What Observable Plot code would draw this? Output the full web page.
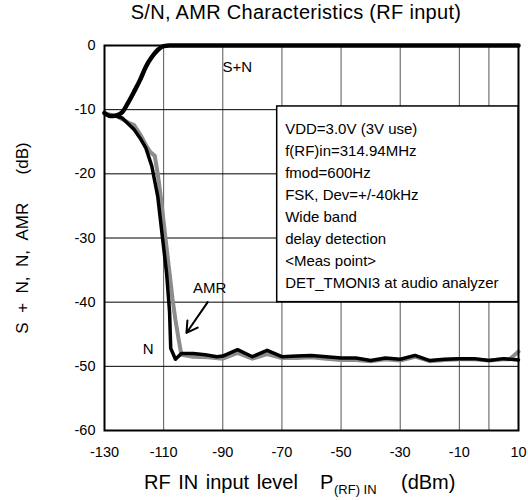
<!DOCTYPE html>
<html>
<head>
<meta charset="utf-8">
<script src="https://cdn.jsdelivr.net/npm/d3@7"></script>
<script src="https://cdn.jsdelivr.net/npm/@observablehq/plot@0.6"></script>
<style>
  html, body { margin: 0; padding: 0; background: #fff; }
  #wrap { position: relative; width: 528px; height: 500px; font-family: "Liberation Sans", Arial, sans-serif; color: #000; overflow: hidden; }
  #title { position: absolute; top: 0; left: 296px; transform: translateX(-50%); font-size: 20px; line-height: 24px; white-space: nowrap; letter-spacing: 0.3px; }
  #chart { position: absolute; top: 28px; left: 0; }
  .xl { position: absolute; top: 470px; font-size: 20px; line-height: 24px; white-space: pre; }
  #xl1 { left: 144px; word-spacing: 2px; }
  #xl2 { left: 320px; }
  #xl3 { left: 334px; top: 478px; font-size: 13px; }
  #xl4 { left: 401px; }
</style>
</head>
<body>
<div id="wrap">
  <div id="title"></div>
  <div id="chart"></div>
  <span class="xl" id="xl1"></span>
  <span class="xl" id="xl2"></span>
  <span class="xl" id="xl3"></span>
  <span class="xl" id="xl4"></span>
</div>
<script>
// ---- data ----
const titleText = "S/N, AMR Characteristics (RF input)";
const xLabelMain = "RF IN input level";
const xLabelP = "P";
const xLabelSub = "(RF) IN";
const xLabelUnit = "(dBm)";
const yLabelText = "S\u00a0\u00a0+\u00a0\u00a0N,\u00a0\u00a0N,\u00a0\u00a0AMR\u00a0\u00a0\u00a0\u00a0\u00a0\u00a0(dB)";

const xTicks = [-130, -110, -90, -70, -50, -30, -10, 10];
const yTicks = [0, -10, -20, -30, -40, -50, -60];
const xGrid = [-110, -90, -70, -50, -30, -10, 0];
const yGrid = [-10, -20, -30, -40, -50];

// S+N (black)
const snX = [-130, -128, -126, -124, -122, -120, -118, -116, -114, -112, -110, -108, -100, -80, -60, -40, -20, 0, 10];
const snY = [-10.5, -11.0, -10.9, -10.4, -8.9, -7.2, -5.4, -3.3, -1.8, -0.7, -0.1, 0, 0, 0, 0, 0, 0, 0, 0];

// N (black)
const nX = [-130, -128, -126, -124, -122, -120, -118, -116, -114, -112, -111, -110, -109, -108, -107.6, -106, -104, -100, -96, -92, -90, -85, -80, -75, -70, -65, -60, -55, -50, -45, -40, -35, -30, -25, -20, -15, -10, -5, 0, 5, 10];
const nY = [-10.6, -11.0, -11.0, -11.3, -12.2, -13.1, -14.4, -16.0, -18.8, -23.5, -27.5, -31.5, -35.5, -41.5, -47.2, -48.9, -48.0, -48.0, -48.2, -48.5, -48.4, -47.4, -48.5, -47.5, -48.5, -48.4, -48.3, -48.5, -48.7, -48.7, -49.1, -48.7, -48.9, -48.3, -49.1, -48.9, -48.8, -48.8, -49.1, -48.8, -49.0];

// AMR (gray)
const amrX = [-130, -128, -126, -124, -122, -120, -118, -116, -114.5, -113, -112, -111, -110, -109, -108, -107, -106, -105, -104, -100, -95, -90, -85, -80, -75, -70, -65, -60, -55, -50, -45, -40, -35, -30, -25, -20, -15, -10, -5, 0, 5, 7, 10];
const amrY = [-10.6, -10.8, -11.0, -11.5, -12.0, -12.4, -13.8, -15.5, -16.6, -17.2, -20.0, -23.5, -27.5, -31.5, -35.5, -39.5, -42.8, -45.6, -48.2, -48.5, -48.6, -48.8, -47.9, -48.8, -48.1, -48.7, -48.7, -48.6, -48.8, -49.0, -49.0, -49.2, -48.9, -49.1, -48.5, -49.2, -49.0, -48.9, -48.9, -49.1, -48.9, -48.9, -47.7];

// annotation box
const boxLines = [
  "VDD=3.0V (3V use)",
  "f(RF)in=314.94MHz",
  "fmod=600Hz",
  "FSK, Dev=+/-40kHz",
  "Wide band",
  "delay detection",
  "<Meas point>",
  "DET_TMONI3 at audio analyzer"
];
const boxX1 = -71.6, boxX2 = 10, boxY1 = -9.5, boxY2 = -40.0;
const boxTextX = -68.9, boxTextY = -11.4;

// curve labels
const labelText = ["S+N", "AMR", "N"];
const labelX = [-85.1, -94.4, -115.2];
const labelY = [-3.4, -37.8, -47.3];

// arrow (AMR pointer)
const arrowFrom = [-95.1, -40.0];
const arrowTo = [-102.3, -44.8];

// ---- build ----
const toRows = (xs, ys) => xs.map((x, i) => ({x, y: ys[i]}));
const sn = toRows(snX, snY);
const noise = toRows(nX, nY);
const amr = toRows(amrX, amrY);
const labels = labelText.map((t, i) => ({t, x: labelX[i], y: labelY[i]}));

document.getElementById("title").textContent = titleText;
document.getElementById("xl1").textContent = xLabelMain;
document.getElementById("xl2").textContent = xLabelP;
document.getElementById("xl3").textContent = xLabelSub;
document.getElementById("xl4").textContent = xLabelUnit;

const chart = Plot.plot({
  width: 528,
  height: 440,
  marginLeft: 104,
  marginRight: 10,
  marginTop: 17,
  marginBottom: 38,
  style: { fontFamily: "'Liberation Sans', Arial, sans-serif", fontSize: "14.5px", color: "#000", background: "#fff" },
  x: { domain: [-130, 10], ticks: xTicks, tickSize: 0, tickPadding: 16, tickFormat: d => String(d), label: null },
  y: { domain: [-60, 0], ticks: yTicks, tickSize: 0, tickPadding: 9, tickFormat: d => String(d), label: null },
  marks: [
    Plot.ruleX(xGrid, { stroke: "#555", strokeWidth: 1 }),
    Plot.ruleY(yGrid, { stroke: "#000", strokeWidth: 1 }),
    Plot.line(amr, { x: "x", y: "y", stroke: "#8c8c8c", strokeWidth: 4, strokeLinejoin: "round" }),
    Plot.line(noise, { x: "x", y: "y", stroke: "#000", strokeWidth: 3.5, strokeLinejoin: "round" }),
    Plot.line(sn, { x: "x", y: "y", stroke: "#000", strokeWidth: 4.5, strokeLinejoin: "round", curve: "monotone-x" }),
    Plot.frame({ stroke: "#000", strokeWidth: 2 }),
    Plot.rect([{}], { x1: () => boxX1, x2: () => boxX2, y1: () => boxY1, y2: () => boxY2, fill: "#fff", stroke: "#000", strokeWidth: 1.5 }),
    Plot.text([boxLines.join("\n")], { x: () => boxTextX, y: () => boxTextY, text: d => d, textAnchor: "start", lineAnchor: "top", lineHeight: 1.467, fontSize: 15 }),
    Plot.text(labels, { x: "x", y: "y", text: "t", fontSize: 15 }),
    Plot.arrow([{}], { x1: () => arrowFrom[0], y1: () => arrowFrom[1], x2: () => arrowTo[0], y2: () => arrowTo[1], stroke: "#000", strokeWidth: 2, headLength: 12, bend: 0 }),
    Plot.text([yLabelText], { frameAnchor: "left", textAnchor: "middle", dx: -82, rotate: -90, text: d => d, fontSize: 17 })
  ]
});
document.getElementById("chart").appendChild(chart);
</script>
</body>
</html>
